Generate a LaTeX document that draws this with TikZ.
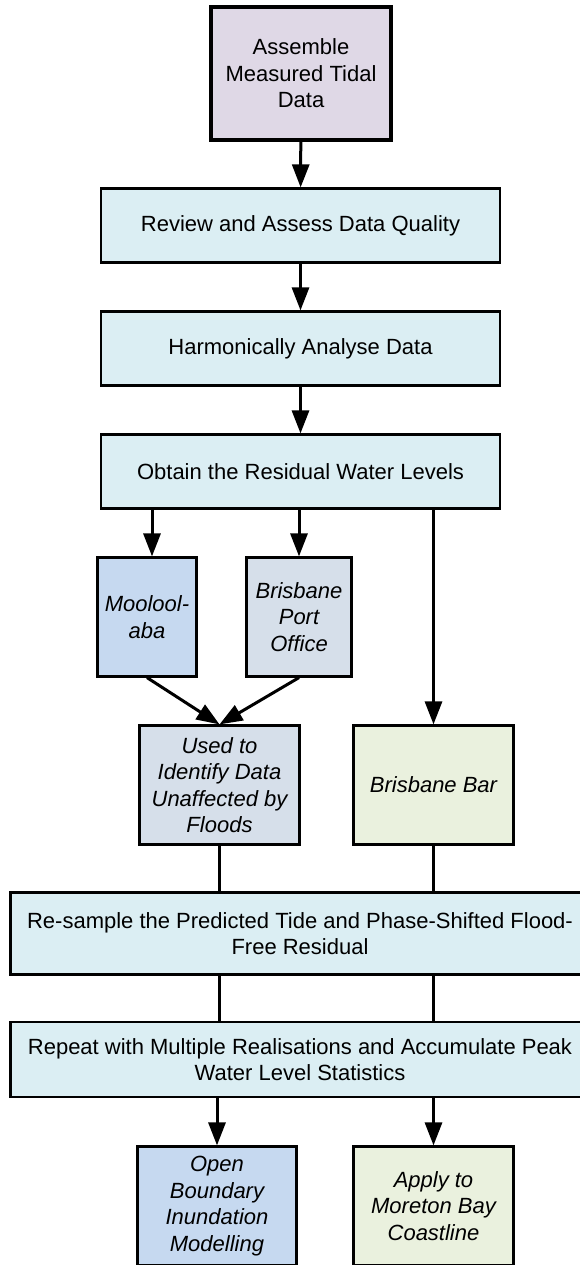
\documentclass[tikz,border=0pt]{standalone}
\usepackage{fontspec}
\setmainfont{Liberation Sans}
\usetikzlibrary{arrows.meta}
\definecolor{lav}{RGB}{223,216,230}
\definecolor{cy}{RGB}{219,238,243}
\definecolor{lb}{RGB}{198,217,240}
\definecolor{gb}{RGB}{214,223,234}
\definecolor{gr}{RGB}{234,241,222}
\begin{document}
\begin{tikzpicture}[x=1pt,y=-1pt,
  box/.style={draw=black, line width=2.2pt, inner sep=0pt, align=center,
    font=\fontsize{22}{26.4}\selectfont},
  wide/.style={box, fill=cy, minimum width=399, minimum height=74},
  small/.style={box, font=\fontsize{22}{26.4}\selectfont\itshape, minimum height=119},
  arr/.style={line width=3pt, -{Triangle[length=23pt,width=17pt]}},
  link/.style={line width=3pt}]
\useasboundingbox (0,0) rectangle (580,1265);
\node[box, fill=lav, line width=3.8pt, minimum width=180, minimum height=133] (a) at (301,73.5) {Assemble\\Measured Tidal\\Data};
\node[wide] (rev) at (300.5,225.5) {Review and Assess Data Quality};
\node[wide] (har) at (300.5,348.5) {Harmonically Analyse Data};
\node[wide] (obt) at (300.5,471.5) {Obtain the Residual Water Levels};
\node[small, fill=lb, minimum width=99] (moo) at (147,617) {Moolool-\\aba};
\node[small, fill=gb, minimum width=105] (port) at (299,617) {Brisbane\\Port\\Office};
\node[small, fill=gb, minimum width=160] (used) at (219.5,785) {Used to\\Identify Data\\Unaffected by\\Floods};
\node[small, fill=gr, minimum width=160] (bar) at (433.5,785) {Brisbane Bar};
\node[box, fill=cy, minimum width=579, minimum height=82] (rs) at (300,933.5) {Re-sample the Predicted Tide and Phase-Shifted Flood-\\Free Residual};
\node[box, fill=cy, minimum width=579, minimum height=75] (rp) at (300,1059.5) {Repeat with Multiple Realisations and Accumulate Peak\\Water Level Statistics};
\node[small, fill=lb, minimum width=159] (open) at (217,1206) {Open\\Boundary\\Inundation\\Modelling};
\node[small, fill=gr, minimum width=160] (app) at (433.5,1206) {Apply to\\Moreton Bay\\Coastline};
\draw[arr] (a) -- (rev);
\draw[arr] (rev) -- (har);
\draw[arr] (har) -- (obt);
\draw[arr] ([xshift=5pt]moo.north |- obt.south) -- ([xshift=5pt]moo.north);
\draw[arr] (port.north |- obt.south) -- (port.north);
\draw[arr] (bar.north |- obt.south) -- (bar.north);
\draw[arr] (moo.south) -- (used.north);
\draw[arr] (port.south) -- (used.north);
\draw[link] (used.south) -- (used.south |- rs.north);
\draw[link] (bar.south) -- (bar.south |- rs.north);
\draw[link] (used.south |- rs.south) -- (used.south |- rp.north);
\draw[link] (bar.south |- rs.south) -- (bar.south |- rp.north);
\draw[arr] (open.north |- rp.south) -- (open.north);
\draw[arr] (app.north |- rp.south) -- (app.north);
\end{tikzpicture}
\end{document}
